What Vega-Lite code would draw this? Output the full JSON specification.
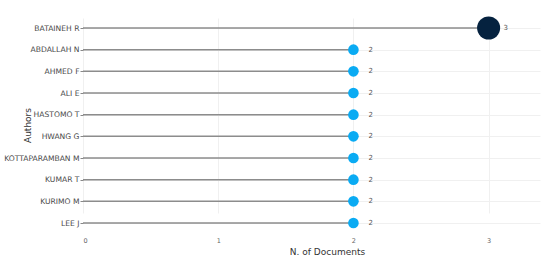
{
  "$schema": "https://vega.github.io/schema/vega-lite/v6.json",
  "autosize": {"type": "none"},
  "width": 457,
  "height": 225,
  "padding": {"left": 83, "top": 8, "right": 10, "bottom": 28},
  "background": "white",
  "config": {"view": {"stroke": null}, "font": "DejaVu Sans"},
  "data": {"values": [
    {"author": "BATAINEH R", "docs": 3},
    {"author": "ABDALLAH N", "docs": 2},
    {"author": "AHMED F", "docs": 2},
    {"author": "ALI E", "docs": 2},
    {"author": "HASTOMO T", "docs": 2},
    {"author": "HWANG G", "docs": 2},
    {"author": "KOTTAPARAMBAN M", "docs": 2},
    {"author": "KUMAR T", "docs": 2},
    {"author": "KURIMO M", "docs": 2},
    {"author": "LEE J", "docs": 2}
  ]},
  "encoding": {
    "y": {
      "field": "author", "type": "nominal", "sort": null,
      "scale": {"type": "point", "range": [20, 215], "padding": 0},
      "axis": {
        "title": "Authors", "titleFontSize": 9, "titleFontWeight": "normal", "titleColor": "#333",
        "titleX": -51, "titleY": 117,
        "labelFontSize": 7.6, "labelColor": "#4a4a4a", "labelPadding": 1,
        "tickSize": 3, "tickColor": "#888", "domain": false,
        "grid": true, "gridColor": "#f0f0f0"
      }
    },
    "x": {
      "field": "docs", "type": "quantitative",
      "scale": {"domain": [0, 3.38], "nice": false},
      "axis": {
        "title": "N. of Documents", "titleFontSize": 9, "titleFontWeight": "normal", "titleColor": "#333",
        "titleX": 244, "titlePadding": 4,
        "values": [0, 1, 2, 3], "format": "d",
        "labelFontSize": 6.5, "labelColor": "#666", "labelPadding": 4,
        "ticks": false, "domain": false,
        "grid": true, "gridColor": "#f0f0f0"
      }
    }
  },
  "layer": [
    {
      "mark": {"type": "rule", "color": "#8c8c8c", "strokeWidth": 1.5},
      "encoding": {
        "x2": {"datum": 0}
      }
    },
    {
      "mark": {"type": "circle", "opacity": 1},
      "encoding": {
        "size": {"field": "docs", "type": "quantitative", "scale": {"domain": [2, 3], "range": [113, 531]}, "legend": null},
        "color": {"field": "docs", "type": "quantitative", "scale": {"domain": [2, 3], "range": ["#0aabf3", "#05223f"]}, "legend": null}
      }
    },
    {
      "mark": {"type": "text", "dx": 15, "align": "left", "baseline": "middle", "fontSize": 7, "color": "#555"},
      "encoding": {
        "text": {"field": "docs", "type": "quantitative"}
      }
    }
  ]
}
